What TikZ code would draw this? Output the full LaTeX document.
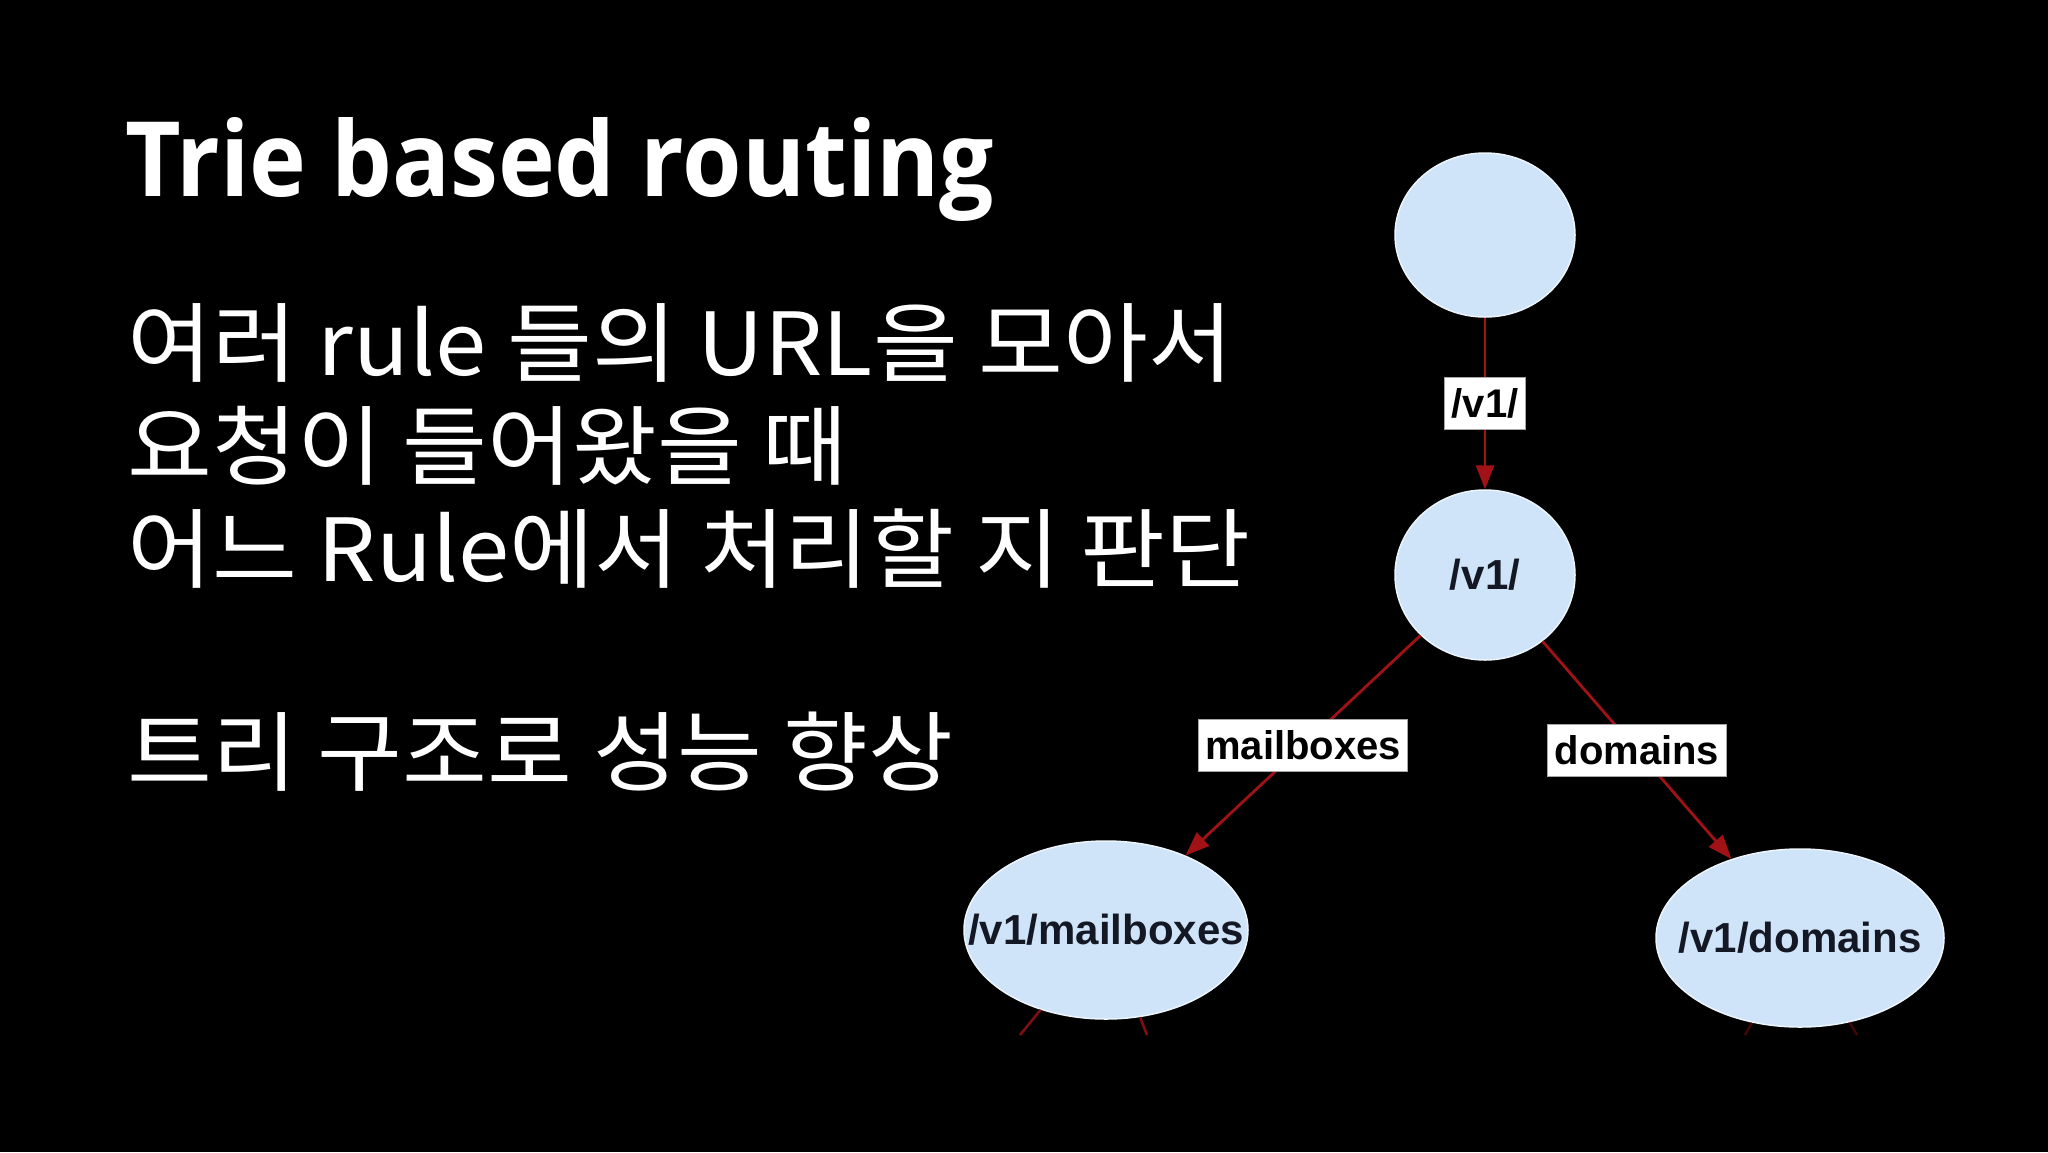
\documentclass[tikz,border=0pt]{standalone}
\usepackage{fontspec}
\setmainfont{Open Sans}
\newfontfamily\titlefont[FakeStretch=0.925]{Open Sans}
\newfontfamily\krfont[FakeStretch=1.06]{Noto Sans CJK KR}
\newfontfamily\diagfont{Liberation Sans}
\usetikzlibrary{shapes.geometric,arrows.meta}
\definecolor{nodefill}{RGB}{207,228,248}
\definecolor{noderim}{RGB}{236,244,252}
\definecolor{edgered}{RGB}{160,18,22}
\definecolor{labtext}{RGB}{20,24,36}
\begin{document}
\begin{tikzpicture}[x=1pt,y=-1pt,
  trienode/.style={ellipse,fill=nodefill,draw=noderim,line width=1.5pt,inner sep=0pt,
    font=\diagfont\bfseries\fontsize{42}{42}\selectfont,text=labtext},
  edgelab/.style={fill=white,draw=gray!70,line width=1.2pt,inner xsep=7pt,inner ysep=0pt,
    minimum height=52pt,font=\diagfont\bfseries\fontsize{40}{40}\selectfont,text=black,pos=0.5},
  trieedge/.style={draw=edgered,line width=2.8pt,-{Triangle[length=24pt,width=18pt]}},
  stub/.style={draw=edgered!80!black,line width=2.5pt},
  title/.style={anchor=base west,text=white,font=\titlefont\bfseries\fontsize{104}{104}\selectfont},
  body/.style={anchor=base west,text=white,font=\krfont\fontsize{87}{87}\selectfont}
]
\useasboundingbox (0,0) rectangle (2048,1152);
\fill[black] (0,0) rectangle (2048,1152);

% text
\node[title] (title) at (122,196) {Trie based routing};
\node[body] (l1) at (124,375) {여러 rule 들의 URL을 모아서};
\node[body] (l2) at (124,478) {요청이 들어왔을 때};
\node[body] (l3) at (124,581) {어느 Rule에서 처리할 지 판단};
\node[body] (l4) at (124,784) {트리 구조로 성능 향상};

% trie nodes
\node[trienode,minimum width=180pt,minimum height=164pt] (root) at (1485,235) {};
\node[trienode,minimum width=180pt,minimum height=170pt] (v1) at (1485,575) {\makebox[0pt]{/v1/}};
\node[trienode,minimum width=284pt,minimum height=178pt] (mb) at (1106,930) {\makebox[0pt]{/v1/mailboxes}};
\node[trienode,minimum width=288pt,minimum height=178pt] (dm) at (1800,938) {\makebox[0pt]{/v1/domains}};

% edges
\draw[trieedge] (root) -- node[edgelab] (lab1) {/v1/} (v1);
\draw[trieedge] (v1) -- node[edgelab] (lab2) {mailboxes} (mb);
\draw[trieedge] (v1) -- node[edgelab] (lab3) {domains} (dm);

% stubs to children outside the view
\coordinate (mbc1) at (1020,1035);
\coordinate (mbc2) at (1147,1035);
\coordinate (dmc1) at (1745,1035);
\coordinate (dmc2) at (1857,1035);
\draw[stub] (mb) -- (mbc1);
\draw[stub] (mb) -- (mbc2);
\draw[stub,draw opacity=0.5] (dm) -- (dmc1);
\draw[stub,draw opacity=0.5] (dm) -- (dmc2);
\end{tikzpicture}
\end{document}
